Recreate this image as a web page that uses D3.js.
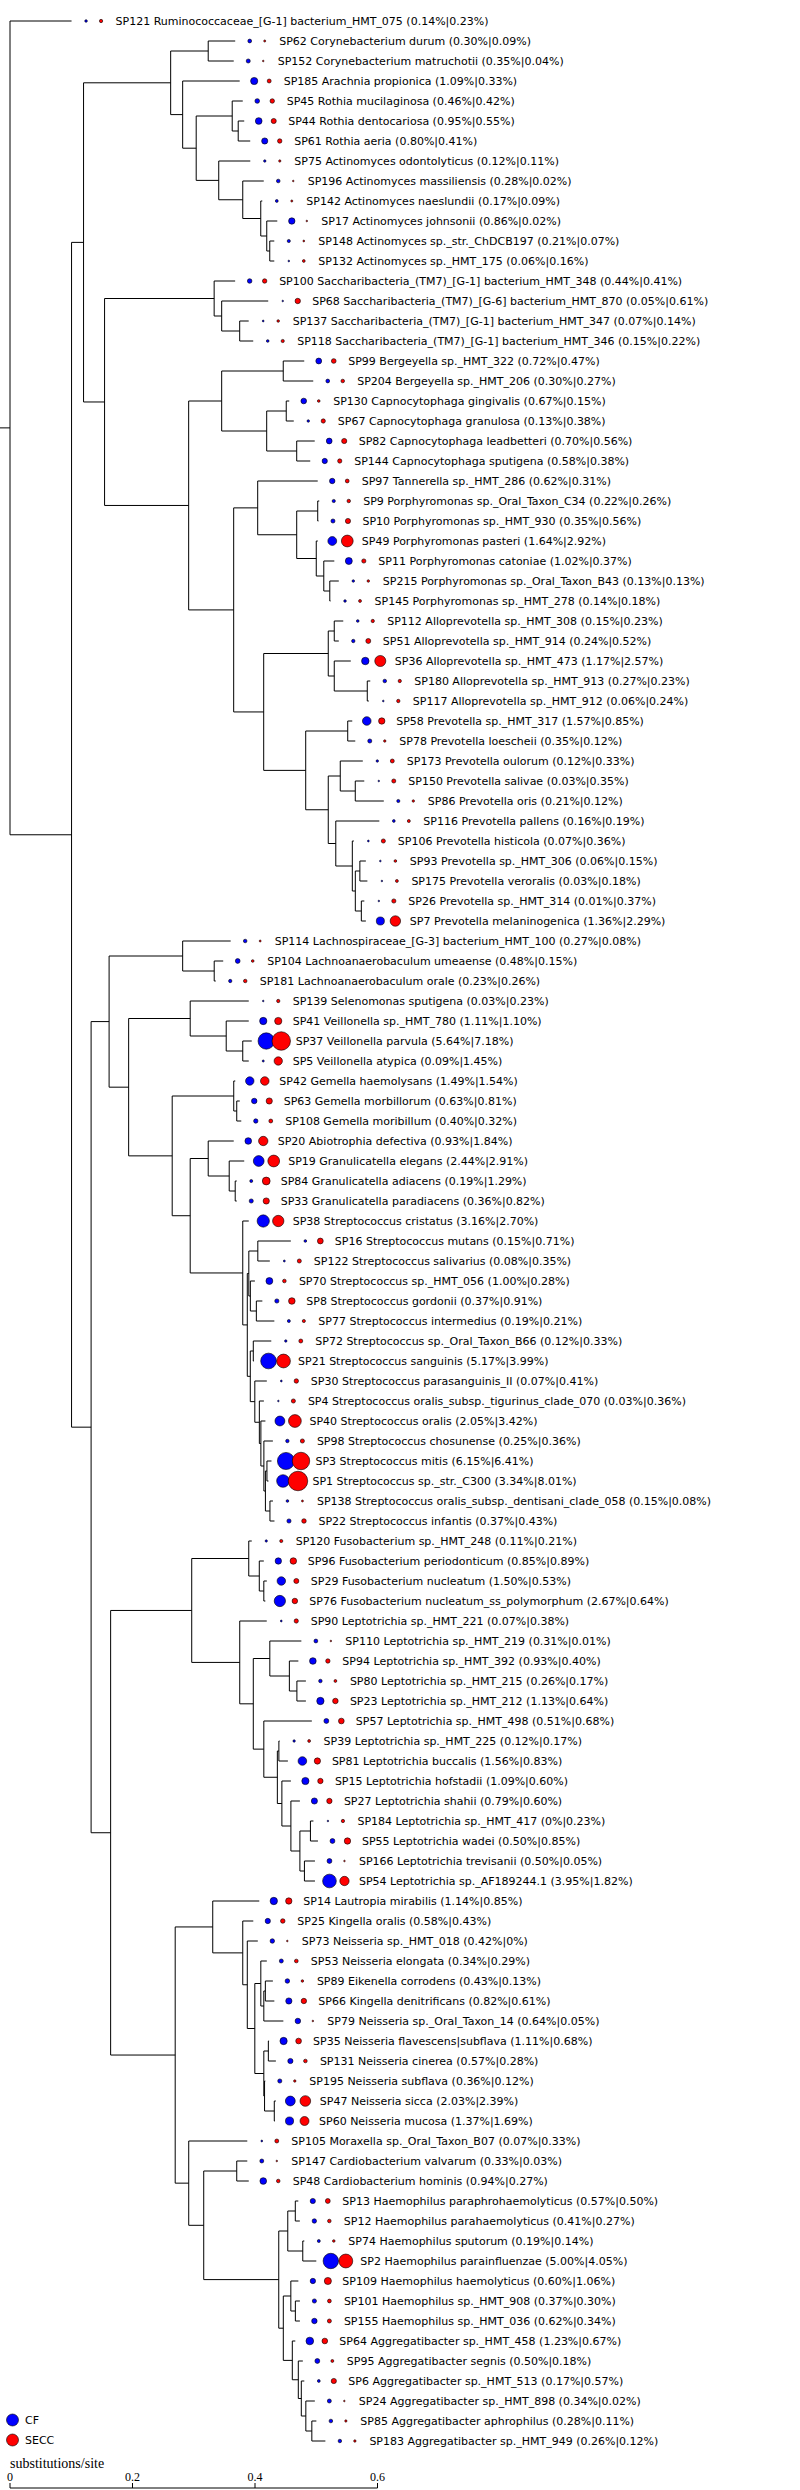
<!DOCTYPE html>
<html><head><meta charset="utf-8">
<script src="https://cdn.jsdelivr.net/npm/d3@7"></script>
<style>body{margin:0;background:#fff}svg{display:block}</style>
</head><body><svg id="chart" width="800" height="2490"></svg>
<script>
// ---------- DATA ----------
const leafIds = ["SP121","SP62","SP152","SP185","SP45","SP44","SP61","SP75","SP196","SP142","SP17","SP148","SP132","SP100","SP68","SP137","SP118","SP99","SP204","SP130","SP67","SP82","SP144","SP97","SP9","SP10","SP49","SP11","SP215","SP145","SP112","SP51","SP36","SP180","SP117","SP58","SP78","SP173","SP150","SP86","SP116","SP106","SP93","SP175","SP26","SP7","SP114","SP104","SP181","SP139","SP41","SP37","SP5","SP42","SP63","SP108","SP20","SP19","SP84","SP33","SP38","SP16","SP122","SP70","SP8","SP77","SP72","SP21","SP30","SP4","SP40","SP98","SP3","SP1","SP138","SP22","SP120","SP96","SP29","SP76","SP90","SP110","SP94","SP80","SP23","SP57","SP39","SP81","SP15","SP27","SP184","SP55","SP166","SP54","SP14","SP25","SP73","SP53","SP89","SP66","SP79","SP35","SP131","SP195","SP47","SP60","SP105","SP147","SP48","SP13","SP12","SP74","SP2","SP109","SP101","SP155","SP64","SP95","SP6","SP24","SP85","SP183"];
const leafNames = ["Ruminococcaceae_[G-1] bacterium_HMT_075","Corynebacterium durum","Corynebacterium matruchotii","Arachnia propionica","Rothia mucilaginosa","Rothia dentocariosa","Rothia aeria","Actinomyces odontolyticus","Actinomyces massiliensis","Actinomyces naeslundii","Actinomyces johnsonii","Actinomyces sp._str._ChDCB197","Actinomyces sp._HMT_175","Saccharibacteria_(TM7)_[G-1] bacterium_HMT_348","Saccharibacteria_(TM7)_[G-6] bacterium_HMT_870","Saccharibacteria_(TM7)_[G-1] bacterium_HMT_347","Saccharibacteria_(TM7)_[G-1] bacterium_HMT_346","Bergeyella sp._HMT_322","Bergeyella sp._HMT_206","Capnocytophaga gingivalis","Capnocytophaga granulosa","Capnocytophaga leadbetteri","Capnocytophaga sputigena","Tannerella sp._HMT_286","Porphyromonas sp._Oral_Taxon_C34","Porphyromonas sp._HMT_930","Porphyromonas pasteri","Porphyromonas catoniae","Porphyromonas sp._Oral_Taxon_B43","Porphyromonas sp._HMT_278","Alloprevotella sp._HMT_308","Alloprevotella sp._HMT_914","Alloprevotella sp._HMT_473","Alloprevotella sp._HMT_913","Alloprevotella sp._HMT_912","Prevotella sp._HMT_317","Prevotella loescheii","Prevotella oulorum","Prevotella salivae","Prevotella oris","Prevotella pallens","Prevotella histicola","Prevotella sp._HMT_306","Prevotella veroralis","Prevotella sp._HMT_314","Prevotella melaninogenica","Lachnospiraceae_[G-3] bacterium_HMT_100","Lachnoanaerobaculum umeaense","Lachnoanaerobaculum orale","Selenomonas sputigena","Veillonella sp._HMT_780","Veillonella parvula","Veillonella atypica","Gemella haemolysans","Gemella morbillorum","Gemella moribillum","Abiotrophia defectiva","Granulicatella elegans","Granulicatella adiacens","Granulicatella paradiacens","Streptococcus cristatus","Streptococcus mutans","Streptococcus salivarius","Streptococcus sp._HMT_056","Streptococcus gordonii","Streptococcus intermedius","Streptococcus sp._Oral_Taxon_B66","Streptococcus sanguinis","Streptococcus parasanguinis_II","Streptococcus oralis_subsp._tigurinus_clade_070","Streptococcus oralis","Streptococcus chosunense","Streptococcus mitis","Streptococcus sp._str._C300","Streptococcus oralis_subsp._dentisani_clade_058","Streptococcus infantis","Fusobacterium sp._HMT_248","Fusobacterium periodonticum","Fusobacterium nucleatum","Fusobacterium nucleatum_ss_polymorphum","Leptotrichia sp._HMT_221","Leptotrichia sp._HMT_219","Leptotrichia sp._HMT_392","Leptotrichia sp._HMT_215","Leptotrichia sp._HMT_212","Leptotrichia sp._HMT_498","Leptotrichia sp._HMT_225","Leptotrichia buccalis","Leptotrichia hofstadii","Leptotrichia shahii","Leptotrichia sp._HMT_417","Leptotrichia wadei","Leptotrichia trevisanii","Leptotrichia sp._AF189244.1","Lautropia mirabilis","Kingella oralis","Neisseria sp._HMT_018","Neisseria elongata","Eikenella corrodens","Kingella denitrificans","Neisseria sp._Oral_Taxon_14","Neisseria flavescens|subflava","Neisseria cinerea","Neisseria subflava","Neisseria sicca","Neisseria mucosa","Moraxella sp._Oral_Taxon_B07","Cardiobacterium valvarum","Cardiobacterium hominis","Haemophilus paraphrohaemolyticus","Haemophilus parahaemolyticus","Haemophilus sputorum","Haemophilus parainfluenzae","Haemophilus haemolyticus","Haemophilus sp._HMT_908","Haemophilus sp._HMT_036","Aggregatibacter sp._HMT_458","Aggregatibacter segnis","Aggregatibacter sp._HMT_513","Aggregatibacter sp._HMT_898","Aggregatibacter aphrophilus","Aggregatibacter sp._HMT_949"];
const cfPct = [0.14,0.30,0.35,1.09,0.46,0.95,0.80,0.12,0.28,0.17,0.86,0.21,0.06,0.44,0.05,0.07,0.15,0.72,0.30,0.67,0.13,0.70,0.58,0.62,0.22,0.35,1.64,1.02,0.13,0.14,0.15,0.24,1.17,0.27,0.06,1.57,0.35,0.12,0.03,0.21,0.16,0.07,0.06,0.03,0.01,1.36,0.27,0.48,0.23,0.03,1.11,5.64,0.09,1.49,0.63,0.40,0.93,2.44,0.19,0.36,3.16,0.15,0.08,1.00,0.37,0.19,0.12,5.17,0.07,0.03,2.05,0.25,6.15,3.34,0.15,0.37,0.11,0.85,1.50,2.67,0.07,0.31,0.93,0.26,1.13,0.51,0.12,1.56,1.09,0.79,0,0.50,0.50,3.95,1.14,0.58,0.42,0.34,0.43,0.82,0.64,1.11,0.57,0.36,2.03,1.37,0.07,0.33,0.94,0.57,0.41,0.19,5.00,0.60,0.37,0.62,1.23,0.50,0.17,0.34,0.28,0.26];
const seccPct = [0.23,0.09,0.04,0.33,0.42,0.55,0.41,0.11,0.02,0.09,0.02,0.07,0.16,0.41,0.61,0.14,0.22,0.47,0.27,0.15,0.38,0.56,0.38,0.31,0.26,0.56,2.92,0.37,0.13,0.18,0.23,0.52,2.57,0.23,0.24,0.85,0.12,0.33,0.35,0.12,0.19,0.36,0.15,0.18,0.37,2.29,0.08,0.15,0.26,0.23,1.10,7.18,1.45,1.54,0.81,0.32,1.84,2.91,1.29,0.82,2.70,0.71,0.35,0.28,0.91,0.21,0.33,3.99,0.41,0.36,3.42,0.36,6.41,8.01,0.08,0.43,0.21,0.89,0.53,0.64,0.38,0.01,0.40,0.17,0.64,0.68,0.17,0.83,0.60,0.60,0.23,0.85,0.05,1.82,0.85,0.43,0,0.29,0.13,0.61,0.05,0.68,0.28,0.12,2.39,1.69,0.33,0.03,0.27,0.50,0.27,0.14,4.05,1.06,0.30,0.34,0.67,0.18,0.57,0.02,0.11,0.12];
const axisTicks = [0, 0.2, 0.4, 0.6];
const axisTitle = "substitutions/site";
const legendKeys = ["CF", "SECC"];
const legendColors = ["#0000ff", "#ff0000"];

// tree topology with branch lengths (substitutions/site), built from named clades
const cladeActino = "((SP62:0.0441,SP152:0.0417):0.0613,(SP185:0.0931,((SP45:0.0172,(SP44:0.0098,SP61:0.0196):0.0098):0.0588,(SP75:0.0515,(SP196:0.0343,(SP142:0.0025,(SP17:0.0172,(SP148:0.0074,SP132:0.0074):0.0049):0.0098):0.0294):0.0392):0.0368):0.0221):0.0196):0.1422";
const cladeTM7 = "(SP100:0.0343,(SP68:0.076,(SP137:0.0147,SP118:0.0221):0.0294):0.0123):0.1789";
const cladeFlavo = "((SP99:0.0343,SP204:0.049):0.1005,((SP130:0.0049,SP67:0.0123):0.0319,(SP82:0.0294,SP144:0.0221):0.049):0.0735):0.0539";
const cladePorph = "(SP97:0.098,((SP9:0.0025,SP10:0.0012):0.0343,(SP49:0.0025,(SP11:0.0172,(SP215:0.0147,SP145:0.0012):0.0098):0.0123):0.0319):0.0637):0.0392";
const cladeAllo = "((SP112:0.0147,SP51:0.0074):0.0098,(SP36:0.027,(SP180:0.0049,SP117:0.0025):0.0539):0.0098):0.1054";
const cladePrev = "((SP58:0.0074,SP78:0.0123):0.0686,((SP173:0.0368,(SP150:0.0147,SP86:0.0466):0.0245):0.0196,(SP116:0.0711,(SP106:0.0025,((SP93:0.0098,SP175:0.0123):0.0074,(SP26:0.0049,SP7:0.0074):0.0098):0.0049):0.027):0.0123):0.0368):0.0686";
const cladeBacteroid = `(${cladeFlavo},(${cladePorph},(${cladeAllo},${cladePrev}):0.049):0.0735):0.1373`;
const cladeLachno = "(SP114:0.0784,(SP104:0.0147,SP181:0.0025):0.0515):0.1201";
const cladeNeg = "(SP139:0.0956,(SP41:0.0368,(SP37:0.0147,SP5:0.0098):0.027):0.0588):0.1005";
const cladeGem = "(SP42:0.0025,(SP63:0.0049,SP108:0.0074):0.0049):0.1005";
const cladeCarno = "(SP20:0.0417,(SP19:0.0245,(SP84:0.0025,SP33:0.0025):0.0098):0.0343):0.0294";
const cladeStrep = "(SP38:0.0098,(((SP16:0.0539,SP122:0.0196):0.0147,(SP70:0.0074,(SP8:0.0098,SP77:0.0294):0.0098):0.0025):0.0025,((SP72:0.0294,SP21:0.0012):0.0049,(SP30:0.0196,(SP4:0.0074,(SP40:0.0074,(SP98:0.0147,((SP3:0.0074,SP1:0.0025):0.0025,(SP138:0.0049,SP22:0.0074):0.0074):0.0025):0.0049):0.0025):0.0074):0.0074):0.0049):0.0074):0.0858";
const cladeFirmi = `(${cladeLachno},(${cladeNeg},(${cladeGem},(${cladeCarno},${cladeStrep}):0.0294):0.0711):0.0319):0.0294`;
const cladeFuso = "((SP120:0.0049,(SP96:0.0074,(SP29:0.0049,SP76:0.0025):0.0074):0.0172):0.0931,(SP90:0.0441,((SP110:0.0515,(SP94:0.0147,(SP80:0.0147,SP23:0.0147):0.0123):0.0319):0.027,(SP57:0.0784,((SP39:0.0012,SP81:0.0147):0.0025,(SP15:0.0147,(SP27:0.0147,((SP184:0.0049,SP55:0.0123):0.0172,(SP166:0.0172,SP54:0.0172):0.0074):0.0147):0.0147):0.0074):0.0221):0.0172):0.0221):0.0784):0.1324";
const cladeBeta = "(SP14:0.076,(SP25:0.0172,(SP73:0.0172,((SP53:0.0098,((SP89:0.0123,SP66:0.0147):0.0025,SP79:0.0319):0.0049):0.0098,((SP35:0.0012,SP131:0.0123):0.0074,(SP195:0.0012,(SP47:0.0025,SP60:0.0012):0.0159):0.0012):0.0147):0.0123):0.0074):0.049):0.0613";
const cladeGamma = "(SP105:0.0956,((SP147:0.0172,SP48:0.0196):0.0539,(((SP13:0.0049,SP12:0.0074):0.0123,(SP74:0.0025,SP2:0.0221):0.0245):0.0147,((SP109:0.0123,(SP101:0.0074,SP155:0.0074):0.0074):0.0123,(SP64:0.0049,(SP95:0.0074,(SP6:0.0049,(SP24:0.0147,(SP85:0.0074,SP183:0.0221):0.0098):0.0074):0.0049):0.0098):0.0147):0.0074):0.1225):0.0245):0.0221";
const cladeProteo = `(${cladeBeta},${cladeGamma}):0.1054`;
const newick = `(SP121:0.1005,(((${cladeActino},(${cladeTM7},${cladeBacteroid}):0.0343):0.0196,(${cladeFirmi},(${cladeFuso},${cladeProteo}):0.0319):0.0319):0.1005));`;

// ---------- PARSE ----------
function parseNewick(str) {
  let i = 0;
  function node() {
    const n = {children: []};
    if (str[i] === '(') {
      i++;
      n.children.push(node());
      while (str[i] === ',') { i++; n.children.push(node()); }
      i++;
    }
    let name = '';
    while (i < str.length && !',():;'.includes(str[i])) name += str[i++];
    n.name = name.trim();
    n.length = 0;
    if (str[i] === ':') {
      i++; let len = '';
      while (i < str.length && !',();'.includes(str[i])) len += str[i++];
      n.length = +len;
    }
    if (!n.children.length) delete n.children;
    return n;
  }
  return node();
}

// ---------- LAYOUT ----------
const svg = d3.select("#chart");
const x = d3.scaleLinear().domain([0, 0.6]).range([10, 377.5]);
const y = d3.scalePoint().domain(leafIds).range([21, 2441]);
const rScale = d3.scaleSqrt().domain([0, 1]).range([0, 3.45]);

const root = d3.hierarchy(parseNewick(newick));
root.eachBefore(d => { d.dist = (d.parent ? d.parent.dist : 0) + d.data.length; });
root.eachAfter(d => {
  if (d.children) d.py = (d.children[0].py + d.children[d.children.length - 1].py) / 2;
  else d.py = y(d.data.name);
  d.px = x(d.dist);
});

const g = svg.append("g").attr("stroke", "#000").attr("stroke-width", 1).attr("fill", "none");
g.append("line").attr("x1", 0).attr("x2", root.px).attr("y1", root.py).attr("y2", root.py);
g.selectAll("line.h").data(root.descendants().filter(d => d.parent)).join("line")
  .attr("class", "h")
  .attr("x1", d => d.parent.px).attr("x2", d => d.px)
  .attr("y1", d => d.py).attr("y2", d => d.py);
g.selectAll("line.v").data(root.descendants().filter(d => d.children)).join("line")
  .attr("class", "v")
  .attr("x1", d => d.px).attr("x2", d => d.px)
  .attr("y1", d => d.children[0].py).attr("y2", d => d.children[d.children.length - 1].py);

// leaves
const idx = new Map(leafIds.map((id, i) => [id, i]));
const fmt = v => v === 0 ? "0%" : v.toFixed(2) + "%";
const leaves = root.leaves().map(d => {
  const i = idx.get(d.data.name);
  return {id: d.data.name, name: leafNames[i], cf: cfPct[i], secc: seccPct[i], tx: d.px, ty: d.py};
});

const lg = svg.append("g");
function dot(sel, cx, cy, v, color) {
  sel.append("circle").attr("cx", cx).attr("cy", cy).attr("r", Math.max(0.8, rScale(v)))
    .attr("fill", color).attr("stroke", "#000").attr("stroke-width", 0.6);
}
leaves.forEach(l => {
  dot(lg, l.tx + 14.5, l.ty, l.cf, legendColors[0]);
  dot(lg, l.tx + 29.5, l.ty, l.secc, legendColors[1]);
  lg.append("text")
    .attr("x", l.tx + 44).attr("y", l.ty)
    .attr("dy", "0.36em")
    .attr("font-family", "DejaVu Sans, sans-serif").attr("font-size", 11).attr("fill", "#000")
    .text(`${l.id} ${l.name} (${fmt(l.cf)}|${fmt(l.secc)})`);
});

// legend
legendKeys.forEach((k, i) => {
  const cy = 2420 + i * 20;
  svg.append("circle").attr("cx", 12.5).attr("cy", cy).attr("r", 6)
    .attr("fill", legendColors[i]).attr("stroke", "#000").attr("stroke-width", 0.6);
  svg.append("text").attr("x", 25).attr("y", cy)
    .attr("dy", "0.36em").attr("font-family", "DejaVu Sans, sans-serif").attr("font-size", 11)
    .text(k);
});

// scale axis
const axY = 2488;
const ax = svg.append("g");
ax.append("line").attr("x1", x(0)).attr("x2", x(0.6)).attr("y1", axY).attr("y2", axY).attr("stroke", "#000");
axisTicks.forEach(t => {
  ax.append("line").attr("x1", x(t)).attr("x2", x(t)).attr("y1", axY - 5).attr("y2", axY).attr("stroke", "#000");
  ax.append("text").attr("x", x(t)).attr("y", axY - 7)
    .attr("text-anchor", "middle").attr("font-family", "Liberation Serif, serif").attr("font-size", 12)
    .text(d3.format("")(t));
});
ax.append("text").attr("x", x(0)).attr("y", 2468)
  .attr("font-family", "Liberation Serif, serif").attr("font-size", 14).text(axisTitle);
</script></body></html>
